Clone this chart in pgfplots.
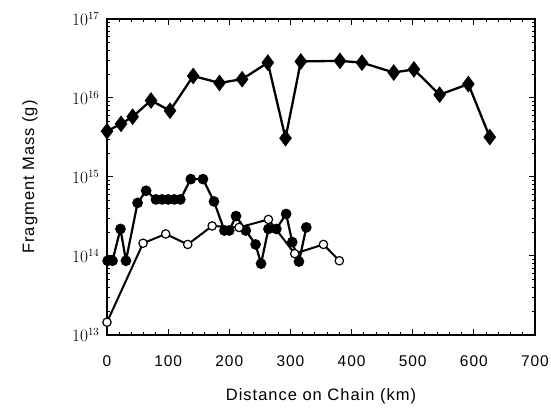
\documentclass[border=0pt]{standalone}
\usepackage{fontspec}
\setmainfont{Liberation Sans}
\usepackage{pgfplots}
\pgfplotsset{compat=1.18}
\newcommand\widesans[1]{\fontsize{#1}{#1}\selectfont\addfontfeatures{LetterSpace=6}}
\begin{document}
\begin{tikzpicture}
\useasboundingbox (-107pt,-72pt) rectangle (444pt,335pt);
\begin{axis}[
  scale only axis, width=428pt, height=316pt,
  ymode=log,
  xmin=0, xmax=700, ymin=1e13, ymax=1e17,
  xtick={0,100,...,700},
  xticklabels={0,100,200,300,400,500,600,700},
  minor x tick num=4,
  ytick={1e13,1e14,1e15,1e16,1e17},
  tick align=inside,
  major tick length=6pt, minor tick length=3pt,
  axis line style={line width=1.5pt},
  tick style={line width=1pt, black},
  xticklabel style={font=\widesans{15.5}, yshift=-17pt},
  yticklabel style={font=\fontsize{16}{18}\selectfont, xshift=-4pt},
  xlabel={Distance on Chain (km)},
  ylabel={Fragment Mass (g)},
  every axis x label/.style={at={(axis description cs:0.5,-0.193)}, anchor=center,
    font=\widesans{16.5}},
  every axis y label/.style={at={(axis description cs:-0.18,0.5)}, anchor=center,
    rotate=90, font=\widesans{16.5}},
  clip=false,
]
% diamonds
\addplot[black, line width=2.3pt, mark=diamond*, mark size=6.5pt, mark options={solid}]
  coordinates {(0,3.8e15) (23,4.7e15) (42,5.8e15) (72,9.3e15) (103,6.9e15)
  (141,1.9e16) (184,1.55e16) (221,1.73e16) (263,2.8e16) (292,3.1e15)
  (317,2.9e16) (381,2.95e16) (417,2.8e16) (469,2.1e16) (502,2.3e16)
  (544,1.1e16) (591,1.5e16) (626,3.2e15)};
% filled circles
\addplot[black, line width=2.2pt, mark=*, mark size=4.2pt, mark options={solid}]
  coordinates {(1,8.7e13) (9,8.7e13) (22,2.2e14) (31,8.7e13) (50,4.7e14)
  (64,6.7e14) (80,5.2e14) (90,5.2e14) (100,5.2e14) (110,5.2e14) (120,5.2e14)
  (137,9.4e14) (157,9.4e14) (175,4.9e14) (192,2.1e14) (200,2.1e14)
  (211,3.2e14) (227,2.1e14) (243,1.4e14) (252,8e13) (264,2.2e14)
  (277,2.2e14) (293,3.4e14) (303,1.5e14) (314,8.5e13) (326,2.3e14)};
% open circles
\addplot[black, line width=2pt, mark=*, mark size=4.2pt,
  mark options={solid, fill=white, line width=1.2pt}]
  coordinates {(0,1.45e13) (59,1.45e14) (96,1.9e14) (132,1.4e14) (172,2.4e14)
  (216,2.3e14) (264,2.9e14) (307,1.07e14) (354,1.4e14) (380,8.7e13)};
\end{axis}
\end{tikzpicture}
\end{document}
